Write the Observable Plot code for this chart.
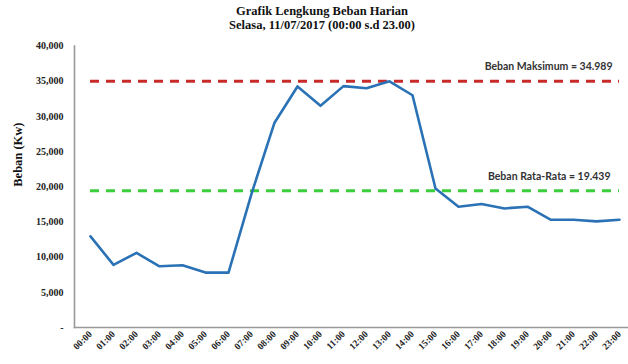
<!DOCTYPE html>
<html>
<head>
<meta charset="utf-8">
<script src="https://cdn.jsdelivr.net/npm/d3@7"></script>
<script src="https://cdn.jsdelivr.net/npm/@observablehq/plot@0.6"></script>
<style>
  html, body { margin: 0; padding: 0; background: #fff; }
  #wrap { position: relative; width: 628px; height: 364px; }
  #title {
    position: absolute; left: 0; top: 4px; width: 644px; text-align: center;
    font-family: "Liberation Serif", "DejaVu Serif", serif; font-weight: bold;
    font-size: 12.5px; line-height: 14px; color: #111;
  }
  svg { display: block; }
</style>
</head>
<body>
<div id="wrap">
  <div id="title">Grafik Lengkung Beban Harian<br>Selasa, 11/07/2017 (00:00 s.d 23.00)</div>
  <div id="chart"></div>
</div>
<script>
// Hourly load, Tuesday 11/07/2017
const hours = ["00:00","01:00","02:00","03:00","04:00","05:00","06:00","07:00","08:00","09:00","10:00","11:00",
               "12:00","13:00","14:00","15:00","16:00","17:00","18:00","19:00","20:00","21:00","22:00","23:00"];
const load = [12950, 8900, 10600, 8700, 8850, 7800, 7800, 19000, 29100, 34250, 31500, 34300,
              34000, 34989, 33000, 19760, 17160, 17540, 16920, 17160, 15320, 15320, 15080, 15320];
const yTicks = [0, 5000, 10000, 15000, 20000, 25000, 30000, 35000, 40000];
const maxLoad = 34989;
const avgLoad = 19439;
const maxLabel = "Beban Maksimum = 34.989";
const avgLabel = "Beban Rata-Rata = 19.439";

const data = hours.map((h, i) => ({hour: h, load: load[i]}));
const serif = "'Liberation Serif', 'DejaVu Serif', serif";
const sans = "Lato, 'Open Sans', 'Liberation Sans', sans-serif";
const first = () => hours[0];
const last = () => hours[hours.length - 1];

const chart = Plot.plot({
  width: 628,
  height: 364,
  marginTop: 45.5,
  marginBottom: 37,
  marginLeft: 74,
  marginRight: 1,
  style: {fontFamily: serif, background: "#fff"},
  x: {type: "point", domain: hours, padding: 0, insetLeft: 12.7, insetRight: 5},
  y: {domain: [0, 40000]},
  marks: [
    // axis lines on the left and bottom edges of the frame
    Plot.frame({anchor: "bottom", stroke: "#999", strokeWidth: 1.6}),
    Plot.frame({anchor: "left", stroke: "#999", strokeWidth: 1.6}),
    Plot.axisY({
      ticks: yTicks, tickSize: 0, tickPadding: 11, label: null,
      tickFormat: d => d === 0 ? "-" : d3.format(",")(d),
      fontSize: 10, fontWeight: "bold", fill: "#222"
    }),
    Plot.axisX({
      tickSize: 0, tickPadding: 5, tickRotate: -45, label: null,
      fontSize: 9.5, fontWeight: "bold", fill: "#222"
    }),
    Plot.text(["Beban (Kw)"], {
      frameAnchor: "left", dx: -57, y: 20000, rotate: -90,
      fontSize: 12.5, fontWeight: "bold", fontFamily: serif, fill: "#111"
    }),
    // reference lines: maximum and average load
    Plot.ruleY([maxLoad], {x1: first, x2: last, stroke: "#c92b2b",
      strokeWidth: 3, strokeDasharray: "9,7"}),
    Plot.ruleY([avgLoad], {x1: first, x2: last, stroke: "#3ccc3c",
      strokeWidth: 3, strokeDasharray: "9,7"}),
    Plot.lineY(data, {x: "hour", y: "load", stroke: "#2a72b5", strokeWidth: 2.6}),
    Plot.text([maxLabel], {frameAnchor: "right", y: maxLoad, dx: -15, dy: -15, textAnchor: "end",
      fontFamily: sans, fontSize: 10.5, fontWeight: "bold", fill: "#333"}),
    Plot.text([avgLabel], {frameAnchor: "right", y: avgLoad, dx: -17, dy: -14.5, textAnchor: "end",
      fontFamily: sans, fontSize: 10.5, fontWeight: "bold", fill: "#333"})
  ]
});
document.getElementById("chart").append(chart);
</script>
</body>
</html>
